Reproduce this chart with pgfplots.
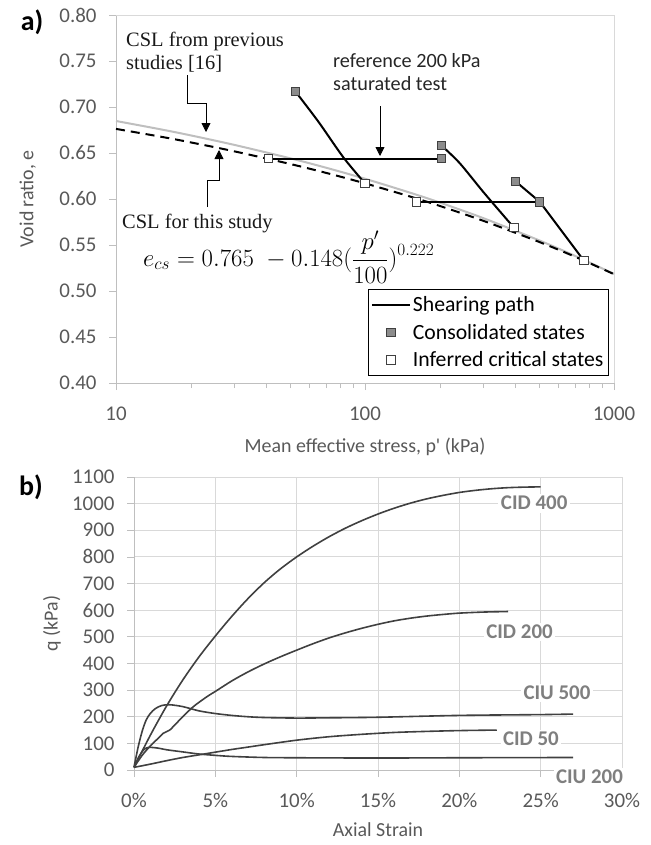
\documentclass[border=0pt]{standalone}
\usepackage{fontspec}
\setmainfont{Carlito}
\newfontfamily\cslfont{Liberation Serif}
\usepackage{pgfplots}
\pgfplotsset{compat=1.18}
\usetikzlibrary{arrows.meta}
\definecolor{tickc}{HTML}{595959}
\definecolor{axgray}{HTML}{BFBFBF}
\definecolor{gridgray}{HTML}{D9D9D9}
\definecolor{curve}{HTML}{404040}
\definecolor{cslgray}{HTML}{BFBFBF}
\definecolor{lblgray}{HTML}{7F7F7F}
\definecolor{consol}{HTML}{8C8C8C}
\newcommand{\fs}[1]{\fontsize{#1}{#1}\selectfont}
\pgfplotsset{
  linelegend/.style={legend image code/.code={\draw[##1] (0bp,0bp) -- (38bp,0bp);}},
  marklegend/.style={legend image code/.code={\draw[mark repeat=2,mark phase=2,##1] plot coordinates {(0bp,0bp)(19bp,0bp)(38bp,0bp)};}},
  qcurve/.style={curve, line width=1.6bp, smooth, tension=0.5, no markers},
  spath/.style={black, line width=2bp, forget plot},
}
\begin{document}
\begin{tikzpicture}
\path[use as bounding box] (0,0) rectangle (651bp,-845bp);
% ---------------- a) ----------------
\begin{axis}[
  at={(116bp,-383bp)}, anchor=south west,
  scale only axis, width=498bp, height=368bp,
  xmode=log, xmin=10, xmax=1000, ymin=0.40, ymax=0.80,
  axis x line*=bottom, axis y line*=left,
  axis line style={axgray, line width=1bp},
  clip=false,
  xtick={10,100,1000}, xticklabels={10,100,1000},
  minor xtick={20,30,40,50,60,70,80,90,200,300,400,500,600,700,800,900},
  ytick={0.40,0.45,0.50,0.55,0.60,0.65,0.70,0.75,0.80},
  yticklabels={0.40,0.45,0.50,0.55,0.60,0.65,0.70,0.75,0.80},
  tick align=outside, major tick length=7bp, minor tick length=5bp,
  tick style={axgray, line width=0.8bp},
  /pgf/number format/assume math mode=true,
  ticklabel style={font=\fs{21}, text=tickc},
  xticklabel style={yshift=-13bp},
  yticklabel style={xshift=-9bp},
  xlabel={Mean effective stress, p\textquotesingle{} (kPa)},
  ylabel={Void ratio, e},
  xlabel style={font=\fs{20}, text=tickc, at={(axis description cs:0.5,-0.174)}, anchor=center},
  ylabel style={font=\fs{20}, text=tickc, at={(axis description cs:-0.177,0.5)}, anchor=center},
  legend style={at={(axis description cs:0.506,0.2554)}, anchor=north west,
    draw=black, line width=0.8bp, fill=white, font=\fs{21.8},
    inner xsep=2.5bp, inner ysep=5bp, row sep=7bp, cells={anchor=west}},
]
\draw[gridgray, line width=1bp] (rel axis cs:0,1) -- (rel axis cs:1,1) -- (rel axis cs:1,0);
\addlegendimage{linelegend, black, line width=2bp}
\addlegendentry{Shearing path}
\addlegendimage{marklegend, only marks, mark=square*, mark size=4.2bp, mark options={fill=consol, draw=curve, line width=0.9bp}}
\addlegendentry{Consolidated states}
\addlegendimage{marklegend, only marks, mark=square*, mark size=4.2bp, mark options={fill=white, draw=curve, line width=0.9bp}}
\addlegendentry{Inferred critical states}
% CSL previous studies (grey)
\addplot[cslgray, line width=2bp, smooth, forget plot] coordinates {
(10,0.6848)(15,0.6759)(20,0.6691)(30,0.6587)(50,0.6443)(70,0.6339)(100,0.6220)
(150,0.6073)(200,0.5961)(300,0.5790)(500,0.5551)(700,0.5380)(1000,0.5186)};
% CSL this study (dashed)
\addplot[black, line width=2bp, dash pattern=on 9bp off 6bp, smooth, forget plot] coordinates {
(10,0.6762)(15,0.6679)(20,0.6615)(30,0.6517)(50,0.6381)(70,0.6283)(100,0.6170)
(150,0.6031)(200,0.5924)(300,0.5761)(500,0.5534)(700,0.5371)(1000,0.5183)};
% shearing paths
\addplot[spath, smooth] coordinates {(52.5,0.717)(65,0.684)(82,0.645)(100,0.617)};
\addplot[spath, smooth] coordinates {(203,0.658)(240,0.639)(300,0.607)(396,0.569)};
\addplot[spath] coordinates {(403,0.619)(503,0.597)(757,0.533)};
\addplot[spath] coordinates {(40.9,0.644)(203,0.644)};
\addplot[spath] coordinates {(161,0.597)(503,0.597)};
% states
\addplot[only marks, mark=square*, mark size=4.2bp, mark options={fill=consol, draw=curve, line width=0.9bp}, forget plot]
 coordinates {(52.5,0.717)(203,0.658)(203,0.644)(403,0.619)(503,0.597)};
\addplot[only marks, mark=square*, mark size=4.2bp, mark options={fill=white, draw=curve, line width=0.9bp}, forget plot]
 coordinates {(40.9,0.644)(100,0.617)(161,0.597)(396,0.569)(757,0.533)};
\end{axis}
% ---------------- b) ----------------
\begin{axis}[
  at={(134bp,-770bp)}, anchor=south west,
  scale only axis, width=488bp, height=293bp,
  xmin=0, xmax=30, ymin=0, ymax=1100,
  axis x line*=bottom, axis y line*=left,
  axis line style={axgray, line width=1bp},
  clip=false,
  xtick={0,5,10,15,20,25,30},
  xticklabels={0\%,5\%,10\%,15\%,20\%,25\%,30\%},
  ytick={0,100,200,300,400,500,600,700,800,900,1000,1100},
  yticklabels={0,100,200,300,400,500,600,700,800,900,1000,1100},
  grid=major, grid style={gridgray, line width=1bp},
  tick align=outside, major tick length=7bp,
  tick style={axgray, line width=0.8bp},
  /pgf/number format/assume math mode=true,
  ticklabel style={font=\fs{21}, text=tickc},
  xticklabel style={yshift=-13bp},
  yticklabel style={xshift=-9bp},
  xlabel={Axial Strain},
  ylabel={q (kPa)},
  xlabel style={font=\fs{20}, text=tickc, at={(axis description cs:0.5,-0.205)}, anchor=center},
  ylabel style={font=\fs{20}, text=tickc, at={(axis description cs:-0.168,0.5)}, anchor=center},
]
% CID 400
\addplot[qcurve] coordinates {(0,10)(1,130)(2,240)(3,338)(4,425)(5,503)(6,576)(7,643)(8,703)(9,755)(10,800)(11,840)(12,876)(13,908)(14,936)(15,961)(16,983)(17,1002)(18,1018)(19,1031)(20,1042)(21,1050)(22,1056)(23,1060)(24,1062)(25,1063)};
% CID 200
\addplot[qcurve] coordinates {(0,10)(0.5,55)(1,90)(1.5,120)(1.8,138)(2.0,144)(2.2,150)(2.6,175)(3,200)(3.65,238)(4.5,276)(5,295)(6,334)(7,368)(8,398)(9,425)(10,450)(11,474)(12,496)(13,515)(14,532)(15,547)(16,560)(17,570)(18,578)(19,584)(20,589)(21.5,593)(23,595)};
% CIU 500
\addplot[qcurve] coordinates {(0,10)(0.25,85)(0.5,145)(0.75,188)(1,212)(1.3,230)(1.7,242)(2.2,245)(3,238)(4,222)(5,212)(6,205)(7,200)(8,197)(10,195)(12,196)(15,198)(20,205)(25,208)(27,210)};
% CID 50
\addplot[qcurve] coordinates {(0,10)(1,22)(2,35)(3,47)(4,57)(5,67)(6,77)(7,86)(8,95)(10,112)(12,125)(14,134)(16,141)(18,145)(20,148)(22.3,150)};
% CIU 200
\addplot[qcurve] coordinates {(0,10)(0.3,50)(0.6,76)(0.9,85)(1.5,82)(2,76)(3,68)(4,60)(5,55)(6,51)(8,47)(10,46)(15,45)(20,46)(27,47)};
\begin{scope}[every node/.style={fill=white, inner sep=2.5bp, text=lblgray, font=\bfseries\fs{21}}]
\node at (axis cs:24.6,1002) {CID 400};
\node at (axis cs:23.7,518) {CID 200};
\node at (axis cs:26.0,289) {CIU 500};
\node at (axis cs:24.4,116) {CID 50};
\node at (axis cs:28.0,-26) {CIU 200};
\end{scope}
\end{axis}
% ---------------- annotations ----------------
\node[font=\bfseries\fs{28}, anchor=center] at (32bp,-22bp) {a)};
\node[font=\bfseries\fs{28}, anchor=center] at (31bp,-487bp) {b)};
\node[font=\cslfont\fs{20.5}, anchor=base west, inner sep=0pt, text=black!90] at (126bp,-46bp) {CSL from previous};
\node[font=\cslfont\fs{20.5}, anchor=base west, inner sep=0pt, text=black!90] at (126bp,-69bp) {studies [16]};
\node[font=\cslfont\fs{20.5}, anchor=base west, inner sep=0pt, text=black!90] at (122bp,-228bp) {CSL for this study};
\node[font=\fs{23}, anchor=base west, inner sep=0pt] at (143bp,-266bp) {$e_{cs} = 0.765\;-0.148(\displaystyle\frac{p'}{100})^{0.222}$};
\node[font=\fs{20.3}, anchor=base west, inner sep=0pt, text=black!85] at (333bp,-67bp) {reference 200 kPa};
\node[font=\fs{20.3}, anchor=base west, inner sep=0pt, text=black!85] at (333bp,-90bp) {saturated test};
\draw[line width=0.8bp, -{Triangle[width=9bp,length=9bp]}] (187bp,-75bp) -- (187bp,-103bp) -- (206bp,-103bp) -- (206bp,-132bp);
\draw[line width=0.8bp, -{Triangle[width=9bp,length=9bp]}] (207bp,-207bp) -- (207bp,-180bp) -- (219bp,-180bp) -- (219bp,-150bp);
\draw[line width=0.8bp, -{Triangle[width=9bp,length=9bp]}] (380bp,-106bp) -- (380bp,-156bp);
\end{tikzpicture}
\end{document}
